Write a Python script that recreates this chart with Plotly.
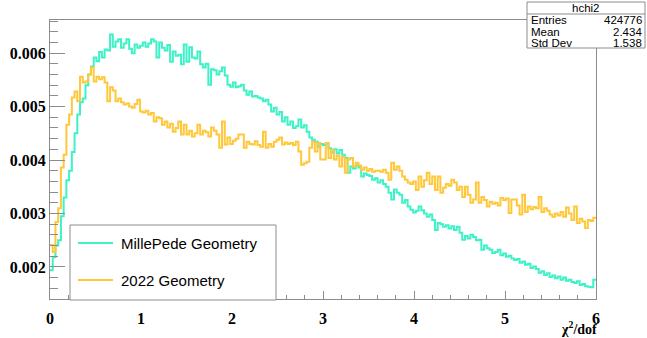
import numpy as np
import plotly.graph_objects as go

# ---- data (values in units of 1e-3), 200 bins from 0 to 6 ----
x_min, x_max, n_bins = 0.0, 6.0, 200

millepede = [
    1.94, 2.18, 2.40, 2.50, 2.95, 3.30, 3.62, 3.80, 4.15, 4.50,
    4.85, 5.08, 5.15, 5.40, 5.60, 5.75, 5.92, 5.85, 6.02, 5.92,
    6.07, 6.05, 6.35, 6.12, 6.22, 6.26, 6.10, 6.18, 6.26, 6.08,
    6.00, 6.16, 6.10, 6.14, 6.20, 6.12, 6.18, 6.26, 6.22, 5.92,
    6.20, 6.10, 6.05, 6.15, 5.84, 6.03, 5.95, 5.97, 5.79, 6.16,
    5.84, 6.11, 5.92, 5.90, 6.03, 5.79, 5.73, 5.80, 5.41, 5.70,
    5.68, 5.60, 5.66, 5.73, 5.58, 5.41, 5.37, 5.45, 5.36, 5.38,
    5.41, 5.30, 5.22, 5.28, 5.19, 5.20, 5.17, 5.15, 5.10, 5.13,
    5.04, 4.91, 4.98, 4.85, 4.90, 4.72, 4.80, 4.66, 4.72, 4.60,
    4.63, 4.76, 4.61, 4.65, 4.53, 4.42, 4.38, 4.34, 4.25, 4.30,
    4.28, 4.32, 4.22, 4.14, 4.20, 4.12, 4.19, 4.10, 4.04, 3.76,
    3.88, 3.84, 3.90, 3.86, 3.69, 3.75, 3.72, 3.70, 3.63, 3.66,
    3.58, 3.62, 3.55, 3.50, 3.39, 3.26, 3.45, 3.39, 3.35, 3.20,
    3.25, 3.13, 3.07, 3.02, 3.05, 3.13, 3.06, 3.00, 2.94, 2.98,
    2.88, 2.69, 2.82, 2.80, 2.75, 2.78, 2.72, 2.76, 2.69, 2.75,
    2.64, 2.51, 2.58, 2.53, 2.60, 2.56, 2.50, 2.51, 2.32, 2.40,
    2.35, 2.32, 2.26, 2.28, 2.32, 2.22, 2.25, 2.19, 2.21, 2.16,
    2.13, 2.15, 2.08, 2.10, 2.04, 2.06, 1.98, 2.01, 1.96, 1.89,
    1.92, 1.85, 1.88, 1.81, 1.84, 1.79, 1.82, 1.76, 1.80, 1.74,
    1.76, 1.72, 1.70, 1.73, 1.66, 1.68, 1.64, 1.63, 1.62, 1.76,
]

geom2022 = [
    2.41, 2.28, 2.84, 3.10, 3.86, 4.10, 4.66, 4.85, 5.17, 5.28,
    5.10, 5.56, 5.45, 5.47, 5.60, 5.73, 5.47, 5.56, 5.51, 5.55,
    5.45, 5.10, 5.36, 5.30, 5.10, 5.15, 5.08, 5.04, 5.06, 5.00,
    4.98, 5.05, 5.13, 4.91, 4.89, 4.92, 4.85, 4.88, 4.72, 4.80,
    4.78, 4.66, 4.72, 4.61, 4.68, 4.53, 4.60, 4.72, 4.48, 4.66,
    4.48, 4.55, 4.44, 4.50, 4.66, 4.48, 4.55, 4.52, 4.44, 4.61,
    4.55, 4.48, 4.23, 4.72, 4.29, 4.42, 4.30, 4.36, 4.40, 4.48,
    4.48, 4.23, 4.34, 4.30, 4.29, 4.35, 4.28, 4.25, 4.53, 4.23,
    4.30, 4.25, 4.34, 4.38, 4.42, 4.29, 4.33, 4.30, 4.32, 4.28,
    4.34, 4.16, 3.91, 3.94, 3.97, 4.23, 4.34, 4.16, 4.32, 4.01,
    4.01, 4.32, 4.04, 4.19, 4.01, 4.08, 3.88, 4.06, 3.76, 4.01,
    4.04, 3.88, 3.95, 3.90, 3.82, 3.86, 3.80, 3.83, 3.78, 3.80,
    3.80, 3.78, 3.82, 3.76, 3.63, 3.95, 3.82, 3.88, 3.80, 3.69,
    3.63, 3.58, 3.55, 3.60, 3.44, 3.69, 3.50, 3.62, 3.76, 3.55,
    3.69, 3.44, 3.69, 3.39, 3.48, 3.55, 3.52, 3.63, 3.58, 3.44,
    3.50, 3.31, 3.50, 3.35, 3.20, 3.26, 3.58, 3.20, 3.31, 3.25,
    3.13, 3.22, 3.18, 3.20, 3.15, 3.29, 3.25, 3.28, 3.01, 3.26,
    3.26, 3.15, 2.98, 3.35, 3.03, 3.13, 3.08, 3.12, 3.10, 3.31,
    3.03, 3.10, 3.05, 2.98, 2.94, 3.00, 2.96, 3.03, 2.94, 3.11,
    3.00, 2.88, 3.13, 2.82, 2.90, 2.85, 2.73, 2.88, 2.86, 2.92,
]

series_names = ["MillePede Geometry", "2022 Geometry"]
series_colors = ["#3cf2c6", "#ffc83a"]

y_tick_vals = [0.002, 0.003, 0.004, 0.005, 0.006]
x_tick_vals = [0, 1, 2, 3, 4, 5, 6]

stats_title = "hchi2"
stats_labels = ["Entries", "Mean", "Std Dev"]
stats_values = ["424776", "2.434", "1.538"]

# ---- figure ----
edges = np.linspace(x_min, x_max, n_bins + 1)
fig = go.Figure()
for vals, name, col in zip([millepede, geom2022], series_names, series_colors):
    y = np.array(vals) * 1e-3
    fig.add_trace(go.Scatter(
        x=edges, y=np.append(y, y[-1]), mode="lines", line_shape="hv",
        line=dict(color=col, width=2), name=name, showlegend=False,
        hoverinfo="skip"))

tickfont = dict(family="Liberation Serif", size=16, color="black", weight="bold")
axcol = "#8c8c8c"

fig.update_xaxes(
    range=[x_min, x_max], tickvals=x_tick_vals, ticktext=[str(v) for v in x_tick_vals],
    ticks="inside", ticklen=8, tickcolor=axcol, showline=True, linecolor=axcol,
    linewidth=1, mirror=True, showgrid=False, zeroline=False, tickfont=tickfont,
    ticklabelstandoff=5, automargin=False,
    minor=dict(ticks="inside", ticklen=4, dtick=0.2, tick0=0, tickcolor=axcol, showgrid=False),
)
fig.update_yaxes(
    range=[0.0014, 0.00662], tickvals=y_tick_vals, ticktext=[f"{v:.3f}" for v in y_tick_vals],
    ticks="inside", ticklen=15, tickcolor=axcol, showline=True, linecolor=axcol,
    linewidth=1, mirror=True, showgrid=False, zeroline=False, tickfont=tickfont,
    automargin=False,
    minor=dict(ticks="inside", ticklen=8, dtick=0.0002, tick0=0, tickcolor=axcol, showgrid=False),
)

L, R, T, B = 50, 51, 20, 39
W, H = 647, 338
pw, ph = W - L - R, H - T - B

def px(xp):
    return (xp - L) / pw

def py(yp):
    return (H - B - yp) / ph

shapes = []
annotations = []

# legend box (drawn manually)
shapes.append(dict(type="rect", xref="paper", yref="paper",
                   x0=px(70), x1=px(276), y0=py(300), y1=py(225),
                   line=dict(color=axcol, width=1), fillcolor="white", layer="above"))
for i, (name, col) in enumerate(zip(series_names, series_colors)):
    yy = py(243 + 37 * i)
    shapes.append(dict(type="line", xref="paper", yref="paper",
                       x0=px(78), x1=px(113), y0=yy, y1=yy,
                       line=dict(color=col, width=2), layer="above"))
    annotations.append(dict(xref="paper", yref="paper", x=px(119), y=yy, text=name,
                            showarrow=False, xanchor="left", yanchor="middle",
                            font=dict(family="Liberation Sans", size=15, color="black")))

# stats box
shapes.append(dict(type="rect", xref="paper", yref="paper",
                   x0=px(527), x1=px(645), y0=py(48), y1=py(2),
                   line=dict(color=axcol, width=1), fillcolor="white", layer="above"))
shapes.append(dict(type="line", xref="paper", yref="paper",
                   x0=px(527), x1=px(645), y0=py(14), y1=py(14),
                   line=dict(color=axcol, width=1), layer="above"))
sfont = dict(family="Liberation Sans", size=11.5, color="black")
annotations.append(dict(xref="paper", yref="paper", x=px(586), y=py(8), text=stats_title,
                        showarrow=False, xanchor="center", yanchor="middle", font=sfont,
                        borderpad=0))
for i, (lab, val) in enumerate(zip(stats_labels, stats_values)):
    yy = py(20.5 + 11 * i)
    annotations.append(dict(xref="paper", yref="paper", x=px(530), y=yy, text=lab,
                            showarrow=False, xanchor="left", yanchor="middle", font=sfont,
                            borderpad=0))
    annotations.append(dict(xref="paper", yref="paper", x=px(643), y=yy, text=val,
                            showarrow=False, xanchor="right", yanchor="middle", font=sfont,
                            borderpad=0))

# x-axis title
annotations.append(dict(xref="paper", yref="paper", x=px(598), y=py(328), text="χ<sup>2</sup>/dof",
                        showarrow=False, xanchor="right", yanchor="middle", borderpad=0,
                        font=dict(family="Liberation Serif", size=14, color="black", weight="bold")))

fig.update_layout(
    width=W, height=H, margin=dict(l=L, r=R, t=T, b=B, pad=0, autoexpand=False),
    plot_bgcolor="white", paper_bgcolor="white",
    shapes=shapes, annotations=annotations, showlegend=False,
)

fig.write_html("out.html", config={"displayModeBar": False},
               post_script="document.body.style.margin='0';document.body.style.overflow='hidden';")
